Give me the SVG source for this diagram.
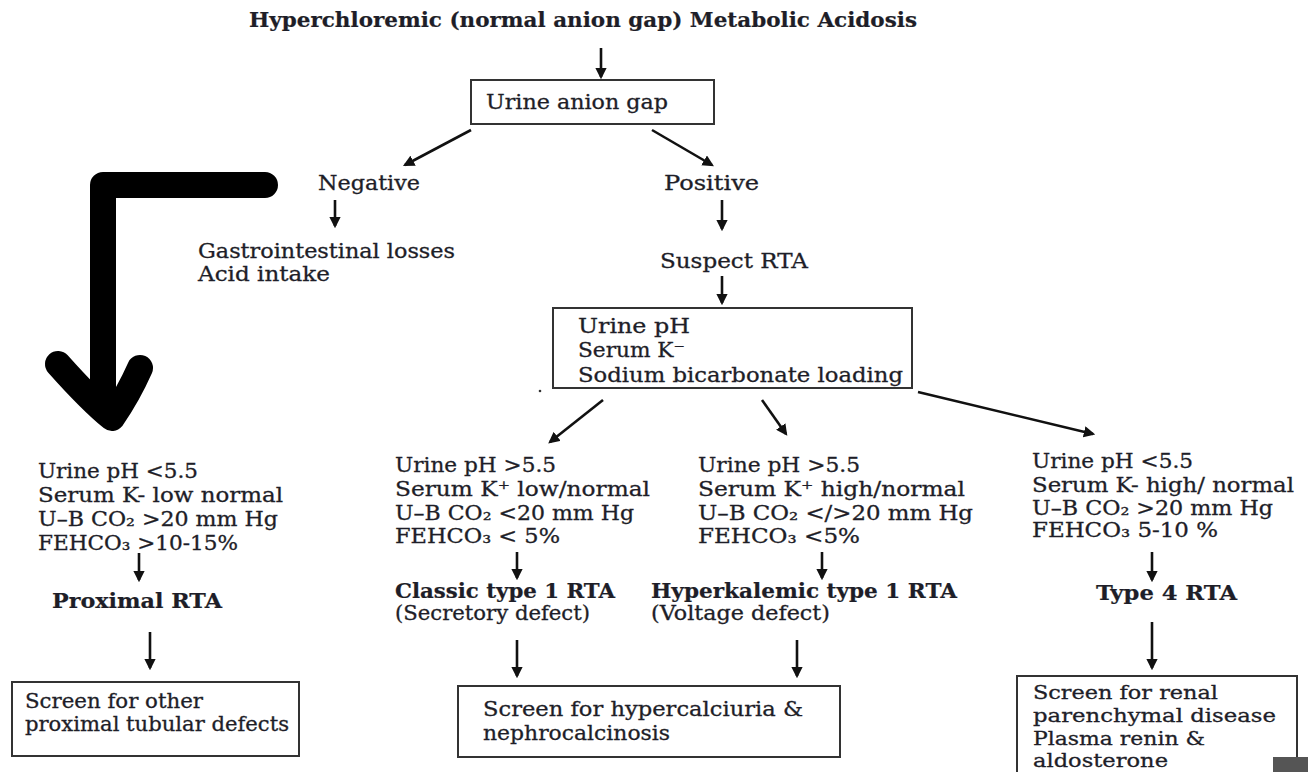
<svg xmlns="http://www.w3.org/2000/svg" width="1308" height="772" viewBox="0 0 1308 772">
<defs>
<style>
text{font-family:"DejaVu Serif","Liberation Serif",serif;font-size:20px;fill:#1e1e28;stroke:#1e1e28;stroke-width:0.3}
.b{font-weight:bold;stroke-width:0.2}
.s{font-size:18.5px}
.box{fill:#fff;stroke:#333;stroke-width:2}
.arr{stroke:#111;stroke-width:2.6;fill:none;marker-end:url(#ah)}
.hand{stroke:#000;stroke-width:26;fill:none;stroke-linecap:round;stroke-linejoin:round}
</style>
<marker id="ah" viewBox="0 0 10 10" refX="8" refY="5" markerWidth="4.4" markerHeight="4.4" orient="auto" markerUnits="strokeWidth">
<path d="M0,0 L10,5 L0,10 z" fill="#111"/>
</marker>
</defs>
<rect width="1308" height="772" fill="#fff"/>

<g id="title"><text class="b" x="249" y="27" textLength="668" lengthAdjust="spacingAndGlyphs">Hyperchloremic (normal anion gap) Metabolic Acidosis</text></g>

<g id="urine-anion-gap"><rect class="box" x="471" y="80" width="243" height="44"/>
<text x="486" y="109" textLength="182" lengthAdjust="spacingAndGlyphs">Urine anion gap</text></g>

<g id="negative"><text x="318" y="190" textLength="102" lengthAdjust="spacingAndGlyphs">Negative</text></g>
<g id="positive"><text x="664" y="190" textLength="95" lengthAdjust="spacingAndGlyphs">Positive</text></g>

<g id="gi"><text x="198" y="258" textLength="257" lengthAdjust="spacingAndGlyphs">Gastrointestinal losses</text>
<text x="198" y="281" textLength="132" lengthAdjust="spacingAndGlyphs">Acid intake</text></g>

<g id="suspect"><text x="660" y="268" textLength="148" lengthAdjust="spacingAndGlyphs">Suspect RTA</text></g>

<g id="tests"><rect class="box" x="553" y="308" width="359" height="80"/>
<text x="578" y="333" textLength="112" lengthAdjust="spacingAndGlyphs">Urine pH</text>
<text x="578" y="357" textLength="107" lengthAdjust="spacingAndGlyphs">Serum K⁻</text>
<text x="578" y="382" textLength="325" lengthAdjust="spacingAndGlyphs">Sodium bicarbonate loading</text>
<circle cx="540" cy="391" r="1.3" fill="#333"/></g>

<g id="col-proximal">
<text x="38" y="478" textLength="160" lengthAdjust="spacingAndGlyphs">Urine pH &lt;5.5</text>
<text x="38" y="502" textLength="245" lengthAdjust="spacingAndGlyphs">Serum K- low normal</text>
<text x="38" y="526" textLength="240" lengthAdjust="spacingAndGlyphs">U–B CO₂ &gt;20 mm Hg</text>
<text x="38" y="550" textLength="200" lengthAdjust="spacingAndGlyphs">FEHCO₃ &gt;10-15%</text>
</g>
<g id="proximal-rta"><text class="b" x="52" y="608" textLength="170" lengthAdjust="spacingAndGlyphs">Proximal RTA</text></g>
<g id="screen-proximal"><rect class="box" x="12" y="682" width="287" height="74"/>
<text x="25" y="708" textLength="178" lengthAdjust="spacingAndGlyphs">Screen for other</text>
<text x="25" y="731" textLength="264" lengthAdjust="spacingAndGlyphs">proximal tubular defects</text></g>

<g id="col-classic">
<text x="395" y="472" textLength="161" lengthAdjust="spacingAndGlyphs">Urine pH &gt;5.5</text>
<text x="395" y="496" textLength="255" lengthAdjust="spacingAndGlyphs">Serum K⁺ low/normal</text>
<text x="395" y="520" textLength="239" lengthAdjust="spacingAndGlyphs">U–B CO₂ &lt;20 mm Hg</text>
<text x="395" y="543" textLength="165" lengthAdjust="spacingAndGlyphs">FEHCO₃  &lt; 5%</text>
</g>
<g id="classic-rta"><text class="b" x="395" y="598" textLength="220" lengthAdjust="spacingAndGlyphs">Classic type 1 RTA</text>
<text x="395" y="620" textLength="195" lengthAdjust="spacingAndGlyphs">(Secretory defect)</text></g>

<g id="col-hyperk">
<text x="698" y="472" textLength="162" lengthAdjust="spacingAndGlyphs">Urine pH &gt;5.5</text>
<text x="698" y="496" textLength="267" lengthAdjust="spacingAndGlyphs">Serum K⁺ high/normal</text>
<text x="698" y="520" textLength="275" lengthAdjust="spacingAndGlyphs">U–B CO₂ &lt;/&gt;20 mm Hg</text>
<text x="698" y="543" textLength="162" lengthAdjust="spacingAndGlyphs">FEHCO₃  &lt;5%</text>
</g>
<g id="hyperk-rta"><text class="b" x="651" y="598" textLength="306" lengthAdjust="spacingAndGlyphs">Hyperkalemic type 1 RTA</text>
<text x="651" y="620" textLength="179" lengthAdjust="spacingAndGlyphs">(Voltage defect)</text></g>

<g id="screen-hypercalciuria"><rect class="box" x="458" y="686" width="382" height="71"/>
<text x="483" y="716" textLength="320" lengthAdjust="spacingAndGlyphs">Screen for hypercalciuria &amp;</text>
<text x="483" y="740" textLength="187" lengthAdjust="spacingAndGlyphs">nephrocalcinosis</text></g>

<g id="col-type4">
<text x="1032" y="468" textLength="161" lengthAdjust="spacingAndGlyphs">Urine pH &lt;5.5</text>
<text x="1032" y="492" textLength="262" lengthAdjust="spacingAndGlyphs">Serum K- high/ normal</text>
<text x="1032" y="515" textLength="241" lengthAdjust="spacingAndGlyphs">U–B CO₂ &gt;20 mm Hg</text>
<text x="1032" y="537" textLength="186" lengthAdjust="spacingAndGlyphs">FEHCO₃  5-10 %</text>
</g>
<g id="type4-rta"><text class="b" x="1096" y="600" textLength="141" lengthAdjust="spacingAndGlyphs">Type 4 RTA</text></g>
<g id="screen-renal"><rect class="box" x="1017" y="676" width="280" height="120"/>
<text class="s" x="1033" y="699" textLength="185" lengthAdjust="spacingAndGlyphs">Screen for renal</text>
<text class="s" x="1033" y="722" textLength="243" lengthAdjust="spacingAndGlyphs">parenchymal disease</text>
<text class="s" x="1033" y="745" textLength="172" lengthAdjust="spacingAndGlyphs">Plasma renin &amp;</text>
<text class="s" x="1033" y="767" textLength="135" lengthAdjust="spacingAndGlyphs">aldosterone</text></g>

<g id="connectors">
<line class="arr" x1="601" y1="48" x2="601" y2="77"/>
<line class="arr" x1="471" y1="130" x2="405" y2="165"/>
<line class="arr" x1="652" y1="130" x2="712" y2="165"/>
<line class="arr" x1="335" y1="200" x2="335" y2="226"/>
<line class="arr" x1="722" y1="200" x2="722" y2="229"/>
<line class="arr" x1="722" y1="276" x2="722" y2="303"/>
<line class="arr" x1="603" y1="400" x2="550" y2="442"/>
<line class="arr" x1="762" y1="400" x2="786" y2="434"/>
<line class="arr" x1="918" y1="392" x2="1093" y2="434"/>
<line class="arr" x1="139" y1="553" x2="139" y2="580"/>
<line class="arr" x1="150" y1="632" x2="150" y2="668"/>
<line class="arr" x1="517" y1="552" x2="517" y2="578"/>
<line class="arr" x1="517" y1="640" x2="517" y2="676"/>
<line class="arr" x1="822" y1="552" x2="822" y2="578"/>
<line class="arr" x1="797" y1="640" x2="797" y2="676"/>
<line class="arr" x1="1152" y1="552" x2="1152" y2="580"/>
<line class="arr" x1="1152" y1="622" x2="1152" y2="668"/>
</g>

<g id="hand-arrow">
<path class="hand" d="M265 185 L103 185 L103 388"/>
<path class="hand" d="M58 364 Q90 400 112 418 Q128 395 140 368"/>
</g>

<rect x="1273" y="757" width="35" height="15" fill="#555"/>
</svg>
